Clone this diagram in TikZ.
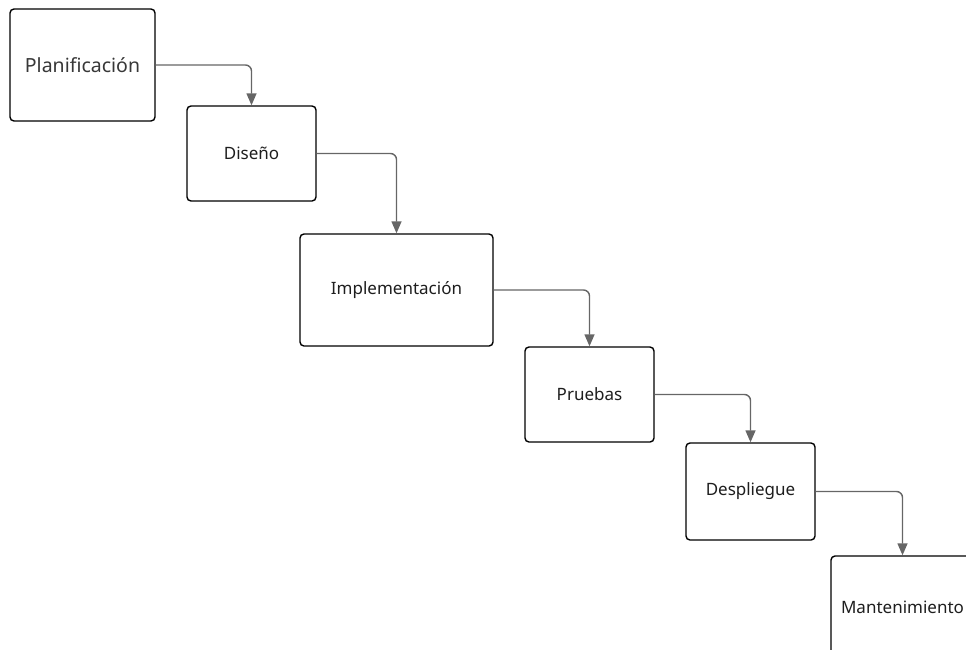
\documentclass[tikz,border=0pt]{standalone}
\usepackage{fontspec}
\setmainfont{Noto Sans}
\usetikzlibrary{arrows.meta}
\definecolor{linegray}{HTML}{666666}
\definecolor{textdark}{HTML}{1E1E1E}
\tikzset{
  phase/.style={draw=black, line width=1.4pt, rounded corners=4pt, fill=white,
    text=textdark, font=\fontsize{17}{20}\selectfont, inner sep=0pt},
  flow/.style={draw=linegray, line width=1.4pt, rounded corners=6pt,
    -{Triangle[length=12pt,width=10pt]}}
}
\begin{document}
\begin{tikzpicture}[x=1pt,y=-1pt]
\useasboundingbox (0,0) rectangle (966,649);
\clip (0,0) rectangle (966,649);
\node[phase, minimum width=145pt, minimum height=112pt, font=\fontsize{19.5}{22}\selectfont, text=black!78] (plan) at (82.5,65) {Planificación};
\node[phase, minimum width=129pt, minimum height=95pt] (dis) at (251.5,153.5) {Diseño};
\node[phase, minimum width=193pt, minimum height=112pt] (imp) at (396.5,290) {Implementación};
\node[phase, minimum width=129pt, minimum height=95pt] (pru) at (589.5,394.5) {Pruebas};
\node[phase, minimum width=129pt, minimum height=97pt] (des) at (750.5,491.5) {Despliegue};
\node[phase, minimum width=143pt, minimum height=102pt] (man) at (902.5,607) {Mantenimiento};
\draw[flow] (plan.east) -| (dis.north);
\draw[flow] (dis.east) -| (imp.north);
\draw[flow] (imp.east) -| (pru.north);
\draw[flow] (pru.east) -| (des.north);
\draw[flow] (des.east) -| (man.north);
\end{tikzpicture}
\end{document}
